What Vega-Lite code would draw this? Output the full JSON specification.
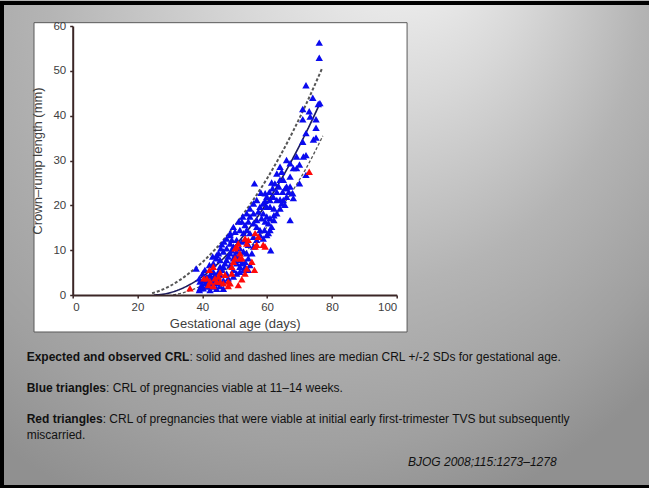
{
  "$schema": "https://vega.github.io/schema/vega-lite/v6.json",
  "width": 324,
  "height": 269,
  "autosize": {"type": "none"},
  "padding": {"left": 72.7, "top": 26, "right": 252.3, "bottom": 193},
  "background": "#b0b0b0",
  "config": {
    "view": {"stroke": null},
    "font": "Liberation Sans"
  },
  "data": {"values": [{}]},
  "datasets": {
    "curves": [
      {"series": "median", "day": 25, "crl": 0},
      {"series": "median", "day": 27, "crl": 0.09},
      {"series": "median", "day": 30, "crl": 0.5},
      {"series": "median", "day": 33, "crl": 1.24},
      {"series": "median", "day": 36, "crl": 2.27},
      {"series": "median", "day": 40, "crl": 4.1},
      {"series": "median", "day": 44, "crl": 6.44},
      {"series": "median", "day": 48, "crl": 9.26},
      {"series": "median", "day": 52, "crl": 12.58},
      {"series": "median", "day": 56, "crl": 16.37},
      {"series": "median", "day": 60, "crl": 20.63},
      {"series": "median", "day": 64, "crl": 25.36},
      {"series": "median", "day": 68, "crl": 30.54},
      {"series": "median", "day": 72, "crl": 36.18},
      {"series": "median", "day": 76.5, "crl": 43.05},
      {"series": "upper", "day": 24.5, "crl": 0.4},
      {"series": "upper", "day": 27, "crl": 1.0},
      {"series": "upper", "day": 30, "crl": 2.0},
      {"series": "upper", "day": 33, "crl": 3.3},
      {"series": "upper", "day": 36, "crl": 4.9},
      {"series": "upper", "day": 40, "crl": 7.3},
      {"series": "upper", "day": 44, "crl": 10.2},
      {"series": "upper", "day": 48, "crl": 13.6},
      {"series": "upper", "day": 52, "crl": 17.4},
      {"series": "upper", "day": 56, "crl": 21.5},
      {"series": "upper", "day": 60, "crl": 26.0},
      {"series": "upper", "day": 64, "crl": 31.0},
      {"series": "upper", "day": 68, "crl": 36.5},
      {"series": "upper", "day": 72, "crl": 42.5},
      {"series": "upper", "day": 77, "crl": 50.6},
      {"series": "lower", "day": 31, "crl": 0},
      {"series": "lower", "day": 34, "crl": 0.5},
      {"series": "lower", "day": 37, "crl": 1.2},
      {"series": "lower", "day": 40, "crl": 2.2},
      {"series": "lower", "day": 44, "crl": 3.9},
      {"series": "lower", "day": 48, "crl": 6.0},
      {"series": "lower", "day": 52, "crl": 8.6},
      {"series": "lower", "day": 56, "crl": 11.7},
      {"series": "lower", "day": 60, "crl": 15.2},
      {"series": "lower", "day": 64, "crl": 19.1},
      {"series": "lower", "day": 68, "crl": 23.4},
      {"series": "lower", "day": 72, "crl": 28.2},
      {"series": "lower", "day": 77.2, "crl": 35.5}
    ],
    "points": [
      {"day": 76.1, "crl": 56.3, "outcome": "viable"},
      {"day": 76.1, "crl": 52.9, "outcome": "viable"},
      {"day": 72.0, "crl": 46.8, "outcome": "viable"},
      {"day": 74.1, "crl": 44.0, "outcome": "viable"},
      {"day": 76.3, "crl": 42.8, "outcome": "viable"},
      {"day": 75.8, "crl": 42.6, "outcome": "viable"},
      {"day": 71.0, "crl": 41.5, "outcome": "viable"},
      {"day": 73.0, "crl": 41.0, "outcome": "viable"},
      {"day": 73.3, "crl": 39.8, "outcome": "viable"},
      {"day": 71.0, "crl": 39.2, "outcome": "viable"},
      {"day": 75.1, "crl": 39.2, "outcome": "viable"},
      {"day": 75.1, "crl": 37.3, "outcome": "viable"},
      {"day": 72.0, "crl": 36.1, "outcome": "viable"},
      {"day": 71.0, "crl": 34.2, "outcome": "viable"},
      {"day": 74.3, "crl": 34.7, "outcome": "viable"},
      {"day": 75.1, "crl": 35.1, "outcome": "viable"},
      {"day": 72.0, "crl": 31.2, "outcome": "viable"},
      {"day": 71.2, "crl": 30.9, "outcome": "viable"},
      {"day": 72.0, "crl": 26.8, "outcome": "viable"},
      {"day": 70.0, "crl": 24.9, "outcome": "viable"},
      {"day": 67.1, "crl": 29.4, "outcome": "viable"},
      {"day": 70.0, "crl": 29.1, "outcome": "viable"},
      {"day": 69.1, "crl": 28.3, "outcome": "viable"},
      {"day": 68.1, "crl": 28.3, "outcome": "viable"},
      {"day": 64.0, "crl": 28.6, "outcome": "viable"},
      {"day": 65.0, "crl": 25.7, "outcome": "viable"},
      {"day": 67.1, "crl": 26.4, "outcome": "viable"},
      {"day": 64.0, "crl": 25.7, "outcome": "viable"},
      {"day": 66.0, "crl": 24.2, "outcome": "viable"},
      {"day": 67.1, "crl": 24.2, "outcome": "viable"},
      {"day": 67.9, "crl": 22.7, "outcome": "viable"},
      {"day": 68.1, "crl": 21.6, "outcome": "viable"},
      {"day": 64.8, "crl": 23.0, "outcome": "viable"},
      {"day": 62.4, "crl": 24.9, "outcome": "viable"},
      {"day": 61.4, "crl": 25.1, "outcome": "viable"},
      {"day": 61.7, "crl": 23.8, "outcome": "viable"},
      {"day": 63.0, "crl": 23.0, "outcome": "viable"},
      {"day": 64.0, "crl": 21.3, "outcome": "viable"},
      {"day": 65.0, "crl": 21.2, "outcome": "viable"},
      {"day": 64.5, "crl": 20.4, "outcome": "viable"},
      {"day": 63.0, "crl": 21.2, "outcome": "viable"},
      {"day": 61.9, "crl": 21.9, "outcome": "viable"},
      {"day": 60.9, "crl": 21.2, "outcome": "viable"},
      {"day": 59.9, "crl": 21.9, "outcome": "viable"},
      {"day": 59.4, "crl": 21.0, "outcome": "viable"},
      {"day": 58.1, "crl": 22.8, "outcome": "viable"},
      {"day": 56.1, "crl": 24.9, "outcome": "viable"},
      {"day": 60.9, "crl": 19.7, "outcome": "viable"},
      {"day": 62.1, "crl": 19.3, "outcome": "viable"},
      {"day": 62.1, "crl": 17.8, "outcome": "viable"},
      {"day": 62.1, "crl": 16.7, "outcome": "viable"},
      {"day": 67.1, "crl": 16.7, "outcome": "viable"},
      {"day": 59.9, "crl": 19.7, "outcome": "viable"},
      {"day": 58.8, "crl": 20.4, "outcome": "viable"},
      {"day": 57.8, "crl": 19.7, "outcome": "viable"},
      {"day": 57.3, "crl": 18.6, "outcome": "viable"},
      {"day": 58.8, "crl": 18.2, "outcome": "viable"},
      {"day": 59.9, "crl": 17.5, "outcome": "viable"},
      {"day": 58.3, "crl": 17.1, "outcome": "viable"},
      {"day": 56.8, "crl": 16.7, "outcome": "viable"},
      {"day": 55.8, "crl": 18.2, "outcome": "viable"},
      {"day": 54.7, "crl": 17.5, "outcome": "viable"},
      {"day": 59.4, "crl": 16.4, "outcome": "viable"},
      {"day": 60.4, "crl": 16.0, "outcome": "viable"},
      {"day": 60.9, "crl": 14.5, "outcome": "viable"},
      {"day": 59.9, "crl": 13.4, "outcome": "viable"},
      {"day": 59.2, "crl": 14.5, "outcome": "viable"},
      {"day": 57.8, "crl": 14.5, "outcome": "viable"},
      {"day": 56.8, "crl": 15.2, "outcome": "viable"},
      {"day": 55.8, "crl": 16.0, "outcome": "viable"},
      {"day": 54.2, "crl": 16.4, "outcome": "viable"},
      {"day": 53.2, "crl": 15.6, "outcome": "viable"},
      {"day": 52.2, "crl": 16.4, "outcome": "viable"},
      {"day": 53.7, "crl": 14.5, "outcome": "viable"},
      {"day": 54.7, "crl": 13.8, "outcome": "viable"},
      {"day": 55.8, "crl": 13.0, "outcome": "viable"},
      {"day": 52.7, "crl": 13.8, "outcome": "viable"},
      {"day": 51.6, "crl": 14.5, "outcome": "viable"},
      {"day": 50.1, "crl": 14.1, "outcome": "viable"},
      {"day": 61.1, "crl": 10.0, "outcome": "viable"},
      {"day": 53.2, "crl": 12.3, "outcome": "viable"},
      {"day": 50.6, "crl": 12.3, "outcome": "viable"},
      {"day": 54.2, "crl": 11.2, "outcome": "viable"},
      {"day": 46.0, "crl": 11.3, "outcome": "viable"},
      {"day": 48.6, "crl": 11.5, "outcome": "viable"},
      {"day": 49.6, "crl": 10.8, "outcome": "viable"},
      {"day": 47.5, "crl": 10.4, "outcome": "viable"},
      {"day": 46.5, "crl": 9.7, "outcome": "viable"},
      {"day": 45.0, "crl": 9.3, "outcome": "viable"},
      {"day": 48.6, "crl": 9.3, "outcome": "viable"},
      {"day": 50.6, "crl": 9.7, "outcome": "viable"},
      {"day": 51.6, "crl": 10.4, "outcome": "viable"},
      {"day": 52.7, "crl": 9.7, "outcome": "viable"},
      {"day": 53.7, "crl": 9.3, "outcome": "viable"},
      {"day": 49.6, "crl": 8.2, "outcome": "viable"},
      {"day": 47.5, "crl": 7.8, "outcome": "viable"},
      {"day": 45.5, "crl": 7.8, "outcome": "viable"},
      {"day": 44.4, "crl": 8.2, "outcome": "viable"},
      {"day": 43.4, "crl": 7.1, "outcome": "viable"},
      {"day": 45.5, "crl": 6.3, "outcome": "viable"},
      {"day": 46.5, "crl": 6.3, "outcome": "viable"},
      {"day": 48.6, "crl": 6.7, "outcome": "viable"},
      {"day": 50.6, "crl": 7.1, "outcome": "viable"},
      {"day": 51.6, "crl": 7.8, "outcome": "viable"},
      {"day": 53.2, "crl": 6.3, "outcome": "viable"},
      {"day": 54.2, "crl": 5.6, "outcome": "viable"},
      {"day": 51.6, "crl": 5.2, "outcome": "viable"},
      {"day": 49.6, "crl": 5.6, "outcome": "viable"},
      {"day": 47.5, "crl": 4.8, "outcome": "viable"},
      {"day": 45.5, "crl": 4.5, "outcome": "viable"},
      {"day": 43.4, "crl": 5.2, "outcome": "viable"},
      {"day": 42.4, "crl": 4.5, "outcome": "viable"},
      {"day": 41.4, "crl": 4.1, "outcome": "viable"},
      {"day": 40.3, "crl": 3.3, "outcome": "viable"},
      {"day": 39.3, "crl": 3.0, "outcome": "viable"},
      {"day": 39.8, "crl": 2.2, "outcome": "viable"},
      {"day": 40.9, "crl": 2.6, "outcome": "viable"},
      {"day": 41.4, "crl": 1.9, "outcome": "viable"},
      {"day": 42.4, "crl": 2.6, "outcome": "viable"},
      {"day": 43.4, "crl": 3.0, "outcome": "viable"},
      {"day": 44.4, "crl": 2.6, "outcome": "viable"},
      {"day": 45.5, "crl": 2.0, "outcome": "viable"},
      {"day": 39.3, "crl": 1.5, "outcome": "viable"},
      {"day": 39.1, "crl": 1.1, "outcome": "viable"},
      {"day": 43.4, "crl": 1.9, "outcome": "viable"},
      {"day": 42.4, "crl": 1.1, "outcome": "viable"},
      {"day": 45.0, "crl": 3.3, "outcome": "viable"},
      {"day": 46.5, "crl": 3.3, "outcome": "viable"},
      {"day": 48.0, "crl": 3.7, "outcome": "viable"},
      {"day": 49.6, "crl": 4.1, "outcome": "viable"},
      {"day": 50.6, "crl": 4.8, "outcome": "viable"},
      {"day": 38.1, "crl": 5.9, "outcome": "viable"},
      {"day": 49.1, "crl": 12.3, "outcome": "viable"},
      {"day": 52.2, "crl": 11.9, "outcome": "viable"},
      {"day": 48.6, "crl": 13.4, "outcome": "viable"},
      {"day": 41.4, "crl": 3.0, "outcome": "viable"},
      {"day": 42.9, "crl": 3.7, "outcome": "viable"},
      {"day": 43.9, "crl": 4.5, "outcome": "viable"},
      {"day": 45.0, "crl": 5.2, "outcome": "viable"},
      {"day": 46.0, "crl": 5.6, "outcome": "viable"},
      {"day": 47.0, "crl": 7.1, "outcome": "viable"},
      {"day": 48.0, "crl": 8.6, "outcome": "viable"},
      {"day": 49.1, "crl": 10.0, "outcome": "viable"},
      {"day": 50.1, "crl": 8.9, "outcome": "viable"},
      {"day": 51.1, "crl": 8.6, "outcome": "viable"},
      {"day": 52.2, "crl": 7.1, "outcome": "viable"},
      {"day": 53.2, "crl": 7.4, "outcome": "viable"},
      {"day": 54.2, "crl": 8.2, "outcome": "viable"},
      {"day": 55.3, "crl": 9.3, "outcome": "viable"},
      {"day": 55.8, "crl": 10.8, "outcome": "viable"},
      {"day": 56.8, "crl": 12.3, "outcome": "viable"},
      {"day": 57.8, "crl": 13.4, "outcome": "viable"},
      {"day": 58.8, "crl": 12.6, "outcome": "viable"},
      {"day": 60.4, "crl": 13.8, "outcome": "viable"},
      {"day": 61.4, "crl": 15.2, "outcome": "viable"},
      {"day": 60.9, "crl": 17.1, "outcome": "viable"},
      {"day": 63.0, "crl": 18.2, "outcome": "viable"},
      {"day": 64.0, "crl": 19.3, "outcome": "viable"},
      {"day": 65.5, "crl": 20.1, "outcome": "viable"},
      {"day": 66.0, "crl": 21.9, "outcome": "viable"},
      {"day": 66.7, "crl": 23.0, "outcome": "viable"},
      {"day": 65.6, "crl": 23.8, "outcome": "viable"},
      {"day": 63.6, "crl": 24.2, "outcome": "viable"},
      {"day": 60.7, "crl": 23.0, "outcome": "viable"},
      {"day": 59.4, "crl": 22.7, "outcome": "viable"},
      {"day": 56.8, "crl": 21.2, "outcome": "viable"},
      {"day": 55.8, "crl": 20.4, "outcome": "viable"},
      {"day": 54.7, "crl": 19.3, "outcome": "viable"},
      {"day": 53.7, "crl": 18.2, "outcome": "viable"},
      {"day": 52.5, "crl": 17.5, "outcome": "viable"},
      {"day": 51.2, "crl": 16.4, "outcome": "viable"},
      {"day": 49.6, "crl": 15.2, "outcome": "viable"},
      {"day": 48.6, "crl": 13.8, "outcome": "viable"},
      {"day": 47.5, "crl": 12.6, "outcome": "viable"},
      {"day": 46.7, "crl": 11.9, "outcome": "viable"},
      {"day": 45.7, "crl": 10.4, "outcome": "viable"},
      {"day": 44.4, "crl": 8.9, "outcome": "viable"},
      {"day": 43.2, "crl": 8.6, "outcome": "viable"},
      {"day": 42.2, "crl": 6.7, "outcome": "viable"},
      {"day": 40.8, "crl": 5.6, "outcome": "viable"},
      {"day": 40.1, "crl": 4.8, "outcome": "viable"},
      {"day": 39.1, "crl": 3.7, "outcome": "viable"},
      {"day": 40.3, "crl": 1.5, "outcome": "viable"},
      {"day": 44.4, "crl": 1.4, "outcome": "viable"},
      {"day": 46.5, "crl": 1.4, "outcome": "viable"},
      {"day": 51.6, "crl": 6.3, "outcome": "viable"},
      {"day": 52.7, "crl": 5.6, "outcome": "viable"},
      {"day": 54.7, "crl": 6.7, "outcome": "viable"},
      {"day": 69.1, "crl": 30.9, "outcome": "viable"},
      {"day": 66.0, "crl": 30.1, "outcome": "viable"},
      {"day": 64.5, "crl": 27.5, "outcome": "viable"},
      {"day": 63.0, "crl": 27.1, "outcome": "viable"},
      {"day": 36.2, "crl": 1.5, "outcome": "miscarried"},
      {"day": 42.2, "crl": 5.6, "outcome": "miscarried"},
      {"day": 43.4, "crl": 6.3, "outcome": "miscarried"},
      {"day": 41.4, "crl": 3.7, "outcome": "miscarried"},
      {"day": 42.4, "crl": 3.0, "outcome": "miscarried"},
      {"day": 43.9, "crl": 3.7, "outcome": "miscarried"},
      {"day": 44.4, "crl": 3.0, "outcome": "miscarried"},
      {"day": 45.5, "crl": 3.0, "outcome": "miscarried"},
      {"day": 45.0, "crl": 4.1, "outcome": "miscarried"},
      {"day": 46.5, "crl": 2.6, "outcome": "miscarried"},
      {"day": 41.9, "crl": 2.2, "outcome": "miscarried"},
      {"day": 43.4, "crl": 2.0, "outcome": "miscarried"},
      {"day": 48.0, "crl": 3.0, "outcome": "miscarried"},
      {"day": 48.0, "crl": 2.0, "outcome": "miscarried"},
      {"day": 49.1, "crl": 6.3, "outcome": "miscarried"},
      {"day": 50.1, "crl": 8.2, "outcome": "miscarried"},
      {"day": 49.6, "crl": 7.4, "outcome": "miscarried"},
      {"day": 50.6, "crl": 10.8, "outcome": "miscarried"},
      {"day": 51.1, "crl": 11.5, "outcome": "miscarried"},
      {"day": 50.1, "crl": 10.4, "outcome": "miscarried"},
      {"day": 51.6, "crl": 8.2, "outcome": "miscarried"},
      {"day": 52.2, "crl": 8.2, "outcome": "miscarried"},
      {"day": 53.7, "crl": 5.9, "outcome": "miscarried"},
      {"day": 53.2, "crl": 4.8, "outcome": "miscarried"},
      {"day": 52.2, "crl": 3.5, "outcome": "miscarried"},
      {"day": 51.1, "crl": 2.2, "outcome": "miscarried"},
      {"day": 55.3, "crl": 7.4, "outcome": "miscarried"},
      {"day": 56.1, "crl": 5.6, "outcome": "miscarried"},
      {"day": 56.3, "crl": 13.8, "outcome": "miscarried"},
      {"day": 57.3, "crl": 13.0, "outcome": "miscarried"},
      {"day": 56.3, "crl": 10.8, "outcome": "miscarried"},
      {"day": 56.8, "crl": 11.2, "outcome": "miscarried"},
      {"day": 58.8, "crl": 11.2, "outcome": "miscarried"},
      {"day": 59.4, "crl": 10.8, "outcome": "miscarried"},
      {"day": 53.2, "crl": 12.6, "outcome": "miscarried"},
      {"day": 54.2, "crl": 12.3, "outcome": "miscarried"},
      {"day": 53.7, "crl": 11.5, "outcome": "miscarried"},
      {"day": 48.6, "crl": 2.6, "outcome": "miscarried"},
      {"day": 47.0, "crl": 4.5, "outcome": "miscarried"},
      {"day": 45.5, "crl": 5.0, "outcome": "miscarried"},
      {"day": 49.1, "crl": 4.8, "outcome": "miscarried"},
      {"day": 51.6, "crl": 9.3, "outcome": "miscarried"},
      {"day": 40.5, "crl": 3.7, "outcome": "miscarried"},
      {"day": 73.0, "crl": 27.5, "outcome": "miscarried"}
    ]
  },
  "layer": [
    {
      "mark": {"type": "rect", "clip": false, "fill": {"gradient": "radial", "x1": 0.65, "y1": 0, "r1": 0, "x2": 0.45, "y2": 0.2, "r2": 0.75, "stops": [{"offset": 0, "color": "#f8f8f8"}, {"offset": 0.3, "color": "#d8d8d8"}, {"offset": 0.6, "color": "#b4b4b4"}, {"offset": 0.85, "color": "#a0a0a0"}, {"offset": 1, "color": "#909090"}]}},
      "encoding": {
        "x": {"datum": -24, "type": "quantitative", "scale": {"domain": [0, 100], "nice": false, "zero": false},
          "axis": {"title": "Gestational age (days)", "values": [0, 20, 40, 60, 80, 100], "grid": false, "zindex": 1,
            "domainColor": "#3b2626", "domainWidth": 2, "tickColor": "#3b2626", "tickWidth": 1.5, "tickSize": 3,
            "labelFont": "Liberation Sans", "labelFontSize": 11.5, "labelColor": "#404040", "labelPadding": 3,
            "titleFont": "Liberation Sans", "titleFontSize": 13, "titleFontWeight": "normal", "titleColor": "#404040", "titlePadding": 5}},
        "x2": {"datum": 179.7},
        "y": {"datum": 66.9, "type": "quantitative", "scale": {"domain": [0, 60], "nice": false, "zero": false},
          "axis": {"title": "Crown–rump length (mm)", "values": [0, 10, 20, 30, 40, 50, 60], "grid": false, "zindex": 1,
            "domainColor": "#3b2626", "domainWidth": 2, "tickColor": "#3b2626", "tickWidth": 1.5, "tickSize": 3,
            "labelFont": "Liberation Sans", "labelFontSize": 11.5, "labelColor": "#404040", "labelPadding": 4,
            "titleFont": "Liberation Sans", "titleFontSize": 13, "titleFontWeight": "normal", "titleColor": "#404040", "titlePadding": 8}},
        "y2": {"datum": -44.2}
      }
    },
    {
      "mark": {"type": "rect", "clip": false, "fillOpacity": 0, "stroke": "#000000", "strokeWidth": 4},
      "encoding": {
        "x": {"datum": -21.82, "type": "quantitative"},
        "x2": {"datum": 181.3},
        "y": {"datum": 65.13, "type": "quantitative"},
        "y2": {"datum": -42.83}
      }
    },
    {
      "mark": {"type": "rect", "clip": false, "fill": "#ffffff", "stroke": "#5a5a5a", "strokeWidth": 1},
      "encoding": {
        "x": {"datum": -11.94, "type": "quantitative"},
        "x2": {"datum": 103.2},
        "y": {"datum": 60.74, "type": "quantitative"},
        "y2": {"datum": -8.25}
      }
    },
    {
      "data": {"name": "curves"},
      "mark": {"type": "line", "interpolate": "monotone"},
      "encoding": {
        "x": {"field": "day", "type": "quantitative"},
        "y": {"field": "crl", "type": "quantitative"},
        "detail": {"field": "series"},
        "color": {"field": "series", "type": "nominal", "scale": {"domain": ["lower", "median", "upper"], "range": ["#555555", "#1c1c5e", "#555555"]}, "legend": null},
        "strokeDash": {"field": "series", "type": "nominal", "scale": {"domain": ["lower", "median", "upper"], "range": [[3, 2], [1, 0], [3, 2]]}, "legend": null},
        "size": {"field": "series", "type": "nominal", "scale": {"domain": ["lower", "median", "upper"], "range": [1.3, 2, 1.3]}, "legend": null}
      }
    },
    {
      "data": {"name": "points"},
      "mark": {"type": "point", "shape": "triangle-up", "filled": true, "opacity": 1, "size": 55},
      "encoding": {
        "x": {"field": "day", "type": "quantitative"},
        "y": {"field": "crl", "type": "quantitative"},
        "color": {"field": "outcome", "type": "nominal", "scale": {"domain": ["viable", "miscarried"], "range": ["#0a0aee", "#ff0a0a"]}, "legend": null}
      }
    },
    {
      "mark": {"type": "text", "text": "Expected and observed CRL", "align": "left", "baseline": "alphabetic", "font": "Liberation Sans", "fontSize": 12, "fontWeight": "bold", "color": "#111111"},
      "encoding": {"x": {"datum": -14.2, "type": "quantitative"}, "y": {"datum": -14.83, "type": "quantitative"}}
    },
    {
      "mark": {"type": "text", "text": ": solid and dashed lines are median CRL +/-2 SDs for gestational age.", "align": "left", "baseline": "alphabetic", "font": "Liberation Sans", "fontSize": 12, "color": "#111111"},
      "encoding": {"x": {"datum": 36.02, "type": "quantitative"}, "y": {"datum": -14.83, "type": "quantitative"}}
    },
    {
      "mark": {"type": "text", "text": "Blue triangles", "align": "left", "baseline": "alphabetic", "font": "Liberation Sans", "fontSize": 12, "fontWeight": "bold", "color": "#111111"},
      "encoding": {"x": {"datum": -14.2, "type": "quantitative"}, "y": {"datum": -21.53, "type": "quantitative"}}
    },
    {
      "mark": {"type": "text", "text": ": CRL of pregnancies viable at 11–14 weeks.", "align": "left", "baseline": "alphabetic", "font": "Liberation Sans", "fontSize": 12, "color": "#111111"},
      "encoding": {"x": {"datum": 10.31, "type": "quantitative"}, "y": {"datum": -21.53, "type": "quantitative"}}
    },
    {
      "mark": {"type": "text", "text": "Red triangles", "align": "left", "baseline": "alphabetic", "font": "Liberation Sans", "fontSize": 12, "fontWeight": "bold", "color": "#111111"},
      "encoding": {"x": {"datum": -14.2, "type": "quantitative"}, "y": {"datum": -28.44, "type": "quantitative"}}
    },
    {
      "mark": {"type": "text", "text": ": CRL of pregnancies that were viable at initial early first-trimester TVS but subsequently", "align": "left", "baseline": "alphabetic", "font": "Liberation Sans", "fontSize": 12, "color": "#111111"},
      "encoding": {"x": {"datum": 9.26, "type": "quantitative"}, "y": {"datum": -28.44, "type": "quantitative"}}
    },
    {
      "mark": {"type": "text", "text": "miscarried.", "align": "left", "baseline": "alphabetic", "font": "Liberation Sans", "fontSize": 12, "color": "#111111"},
      "encoding": {"x": {"datum": -14.2, "type": "quantitative"}, "y": {"datum": -32.23, "type": "quantitative"}}
    },
    {
      "mark": {"type": "text", "text": "BJOG 2008;115:1273–1278", "align": "left", "baseline": "alphabetic", "font": "Liberation Sans", "fontSize": 12, "fontStyle": "italic", "color": "#111111"},
      "encoding": {"x": {"datum": 103.49, "type": "quantitative"}, "y": {"datum": -38.25, "type": "quantitative"}}
    }
  ],
  "resolve": {"scale": {"color": "independent"}}
}
